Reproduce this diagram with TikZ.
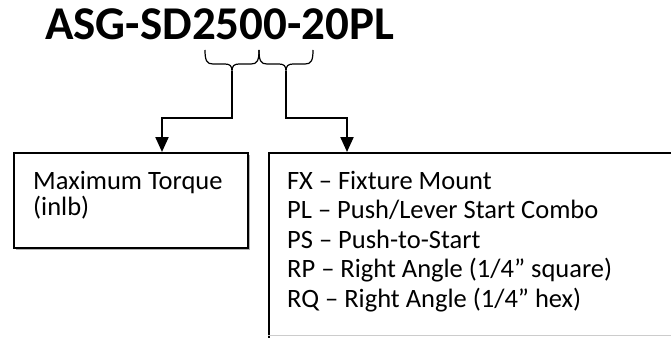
\documentclass[tikz,border=0pt]{standalone}
\usepackage{fontspec}
\setmainfont{Carlito}
\usetikzlibrary{arrows.meta,shadows}

\newcommand{\bodyfont}{\fontsize{26.5}{30}\selectfont}

\begin{document}
\begin{tikzpicture}[x=1pt,y=-1pt]
\tikzset{
  infobox/.style = {draw, fill=white, line width=1.8pt, inner sep=0pt, anchor=north west,
    drop shadow={shadow xshift=1.6pt, shadow yshift=-1.6pt, fill=black!30, opacity=1}},
  listline/.style = {anchor=base west, inner sep=0pt, font=\bodyfont},
  link/.style = {line width=2.2pt, -{Triangle[length=15pt,width=13pt]}},
  brace/.style = {line width=1.2pt, line join=round}
}
\useasboundingbox (0,0) rectangle (671,337);

% part number
\node[anchor=base west, inner sep=0pt, font=\fontsize{47}{56}\selectfont\bfseries] (code) at (45,40) {ASG-SD2500-20PL};

% braces under the code
\coordinate (cuspL) at (232,71);
\coordinate (cuspR) at (286,71);
\draw[brace] (205,50) .. controls (205,61) and (207,64) .. (213,64) -- (225,64)
  .. controls (230,64) and (232,66) .. (cuspL)
  .. controls (232,66) and (234,64) .. (239,64) -- (251,64)
  .. controls (257,64) and (259,61) .. (259,50);
\draw[brace] (259,50) .. controls (259,61) and (261,64) .. (267,64) -- (279,64)
  .. controls (284,64) and (286,66) .. (cuspR)
  .. controls (286,66) and (288,64) .. (293,64) -- (305,64)
  .. controls (311,64) and (313,61) .. (313,50);

% boxes
\node[infobox, minimum width=234pt, minimum height=95pt] (torque) at (13,152) {};
\node[infobox, minimum width=430pt, minimum height=200pt] (mount) at (268,152) {};
\draw[black!20, line width=1pt] (mount.west |- 0,335.5) -- (671,335.5);

% connectors
\coordinate (bendL) at (162,118);
\coordinate (bendR) at (347,118);
\draw[link] (cuspL) |- (bendL) -- (bendL |- torque.north);
\draw[link] (cuspR) |- (bendR) -- (bendR |- mount.north);

% texts
\node[listline] (torque1) at (33,189) {Maximum Torque};
\node[listline] (torque2) at (33,215) {(inlb)};

\node[listline] (fx) at (287,189) {FX – Fixture Mount};
\node[listline] (pl) at (287,218.5) {PL – Push/Lever Start Combo};
\node[listline] (ps) at (287,248) {PS – Push-to-Start};
\node[listline] (rp) at (287,277.5) {RP – Right Angle (1/4” square)};
\node[listline] (rq) at (287,307) {RQ – Right Angle (1/4” hex)};

\end{tikzpicture}
\end{document}
